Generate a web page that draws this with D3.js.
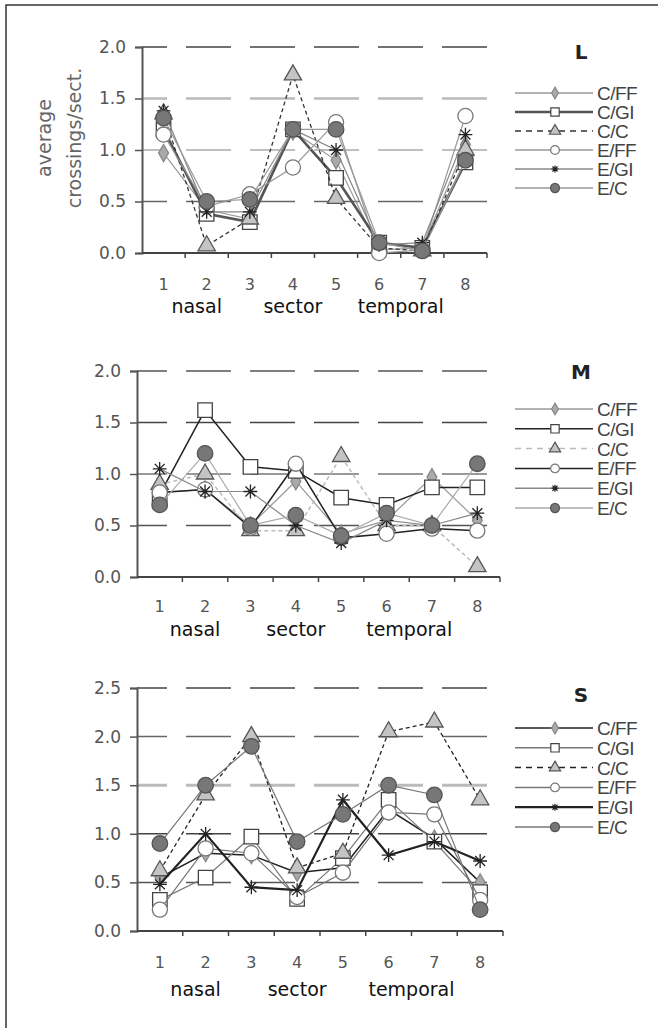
<!DOCTYPE html>
<html>
<head>
<meta charset="utf-8">
<script src="https://cdn.jsdelivr.net/npm/d3@7"></script>
<style>
  body { margin: 0; background: #fff; }
  svg { display: block; }
</style>
</head>
<body>
<div id="chart"></div>
<script>
// categories and labels
const sectors = ["1", "2", "3", "4", "5", "6", "7", "8"];
const seriesNames = ["C/FF", "C/GI", "C/C", "E/FF", "E/GI", "E/C"];
const regionLabels = ["nasal", "sector", "temporal"];
const ticksLM = [0, 0.5, 1, 1.5, 2];
const ticksS = [0, 0.5, 1, 1.5, 2, 2.5];

// L panel
const lCFF = [0.97, 0.42, 0.33, 1.18, 0.90, 0.03, 0.05, 1.05];
const lCGI = [1.20, 0.38, 0.30, 1.20, 0.73, 0.10, 0.05, 0.88];
const lCC  = [1.35, 0.07, 0.33, 1.73, 0.53, 0.05, 0.02, 1.00];
const lEFF = [1.15, 0.45, 0.57, 0.83, 1.27, 0.00, 0.03, 1.33];
const lEGI = [1.38, 0.40, 0.40, 1.20, 1.00, 0.08, 0.10, 1.15];
const lEC  = [1.31, 0.50, 0.52, 1.20, 1.20, 0.10, 0.02, 0.90];

// M panel
const mCFF = [0.82, 0.85, 0.50, 0.93, 0.42, 0.55, 0.97, 0.55];
const mCGI = [0.80, 1.62, 1.07, 1.03, 0.77, 0.70, 0.87, 0.87];
const mCC  = [0.90, 1.00, 0.45, 0.45, 1.17, 0.50, 0.50, 0.10];
const mEFF = [0.82, 0.85, 0.48, 1.10, 0.38, 0.42, 0.47, 0.45];
const mEGI = [1.05, 0.83, 0.83, 0.50, 0.33, 0.55, 0.50, 0.62];
const mEC  = [0.70, 1.20, 0.50, 0.60, 0.40, 0.62, 0.50, 1.10];

// S panel
const sCFF = [0.55, 0.80, 0.78, 0.60, 0.65, 1.25, 0.95, 0.50];
const sCGI = [0.32, 0.55, 0.97, 0.33, 0.75, 1.35, 0.92, 0.40];
const sCC  = [0.62, 1.40, 2.00, 0.65, 0.80, 2.05, 2.15, 1.35];
const sEFF = [0.22, 0.85, 0.80, 0.35, 0.60, 1.22, 1.20, 0.32];
const sEGI = [0.48, 1.00, 0.45, 0.42, 1.35, 0.78, 0.92, 0.72];
const sEC  = [0.90, 1.50, 1.90, 0.92, 1.20, 1.50, 1.40, 0.22];

const width = 658;
const height = 1028;

const svg = d3.select("#chart")
  .append("svg")
  .attr("width", width)
  .attr("height", height);

// outer frame (cut off on the right and bottom in the original)
svg.append("rect")
  .attr("x", 6).attr("y", 5)
  .attr("width", 1000).attr("height", 2000)
  .attr("fill", "none")
  .attr("stroke", "#333")
  .attr("stroke-width", 1.5);

// 8-spoke star used for E/GI
const star8 = {
  draw(ctx, size) {
    const r = Math.sqrt(size) / 2;
    const d = r * 0.72;
    ctx.moveTo(-r, 0); ctx.lineTo(r, 0);
    ctx.moveTo(0, -r); ctx.lineTo(0, r);
    ctx.moveTo(-d, -d); ctx.lineTo(d, d);
    ctx.moveTo(-d, d); ctx.lineTo(d, -d);
  }
};

// marker look per series (same in all panels)
const markers = [
  { type: d3.symbolDiamond, size: 85, legendSize: 40, fill: "#aaa", stroke: "#888" },
  { type: d3.symbolSquare, size: 210, legendSize: 70, fill: "#fff", stroke: "#444" },
  { type: d3.symbolTriangle, size: 130, legendSize: 55, fill: "#c4c4c4", stroke: "#555" },
  { type: d3.symbolCircle, size: 180, legendSize: 60, fill: "#fff", stroke: "#777" },
  { type: star8, size: 190, legendSize: 50, fill: "none", stroke: "#222" },
  { type: d3.symbolCircle, size: 190, legendSize: 65, fill: "#777", stroke: "#555" }
];

const panels = [
  {
    name: "L",
    values: [lCFF, lCGI, lCC, lEFF, lEGI, lEC],
    ticks: ticksLM, yMax: 2,
    left: 142, right: 487, top: 47, bottom: 253,
    numY: 290, regionY: 313,
    titleY: 59, legendY: 93, legendStep: 19,
    grid: { 0.5: ["#666", 1.5], 1: ["#aaa", 1.5], 1.5: ["#bbb", 2.5], 2: ["#444", 1.5] },
    lines: [
      ["#999", 1.2, null], ["#555", 2.6, null], ["#333", 1.3, "4,3"],
      ["#999", 1.2, null], ["#888", 1.2, null], ["#999", 1.2, null]
    ],
    yTitle: true
  },
  {
    name: "M",
    values: [mCFF, mCGI, mCC, mEFF, mEGI, mEC],
    ticks: ticksLM, yMax: 2,
    left: 137, right: 500, top: 371, bottom: 577,
    numY: 612, regionY: 636,
    titleY: 379, legendY: 409, legendStep: 19.8,
    grid: { 0.5: ["#555", 1.5], 1: ["#999", 2], 1.5: ["#444", 1.5], 2: ["#555", 1.5] },
    lines: [
      ["#999", 1.2, null], ["#222", 1.5, null], ["#bbb", 1.5, "4,3"],
      ["#222", 1.5, null], ["#888", 1.2, null], ["#aaa", 1.2, null]
    ],
    yTitle: false
  },
  {
    name: "S",
    values: [sCFF, sCGI, sCC, sEFF, sEGI, sEC],
    ticks: ticksS, yMax: 2.5,
    left: 137, right: 503, top: 688, bottom: 931,
    numY: 968, regionY: 996,
    titleY: 702, legendY: 728, legendStep: 19.8,
    grid: { 0.5: ["#555", 1.5], 1: ["#444", 1.5], 1.5: ["#bbb", 3], 2: ["#666", 1.5], 2.5: ["#444", 1.5] },
    lines: [
      ["#222", 1.5, null], ["#777", 1.2, null], ["#222", 1.3, "4,3"],
      ["#777", 1.2, null], ["#222", 2.2, null], ["#777", 1.2, null]
    ],
    yTitle: false
  }
];

const gridEnd = 488;

panels.forEach((p) => {
  const g = svg.append("g");

  const x = d3.scaleBand()
    .domain(sectors)
    .range([p.left, p.right]);

  const y = d3.scaleLinear()
    .domain([0, p.yMax])
    .range([p.bottom, p.top]);

  const cx = (d) => x(d) + x.bandwidth() / 2;

  // dashed gridlines
  g.selectAll(".grid")
    .data(p.ticks.filter((t) => t > 0))
    .enter()
    .append("line")
    .attr("x1", p.left)
    .attr("x2", gridEnd)
    .attr("y1", (d) => y(d))
    .attr("y2", (d) => y(d))
    .attr("stroke", (d) => p.grid[d][0])
    .attr("stroke-width", (d) => p.grid[d][1])
    .attr("stroke-dasharray", "45,19")
    .attr("stroke-dashoffset", 45 - (167 - p.left));

  // y axis
  const yAxis = g.append("g")
    .attr("transform", `translate(${p.left},0)`)
    .call(d3.axisLeft(y).tickValues(p.ticks).tickFormat(d3.format(".1f")).tickSize(7).tickPadding(9));
  yAxis.select(".domain").attr("stroke", "#555").attr("stroke-width", 2);
  yAxis.selectAll(".tick line").attr("stroke", "#555").attr("stroke-width", 1.5);
  yAxis.selectAll(".tick text")
    .attr("fill", "#555")
    .style("font-family", "DejaVu Sans, sans-serif")
    .style("font-size", "17px");

  // x axis: line with ticks at band boundaries
  g.append("line")
    .attr("x1", p.left).attr("x2", p.right)
    .attr("y1", p.bottom).attr("y2", p.bottom)
    .attr("stroke", "#444")
    .attr("stroke-width", 2);

  const bounds = sectors.map((s) => x(s)).concat([p.right]);
  g.selectAll(".xtick")
    .data(bounds.slice(1))
    .enter()
    .append("line")
    .attr("x1", (d) => d).attr("x2", (d) => d)
    .attr("y1", p.bottom).attr("y2", p.bottom + 5)
    .attr("stroke", "#444")
    .attr("stroke-width", 1.5);

  g.selectAll(".xlab")
    .data(sectors)
    .enter()
    .append("text")
    .attr("x", (d) => cx(d))
    .attr("y", p.numY)
    .attr("text-anchor", "middle")
    .attr("fill", "#555")
    .style("font-family", "DejaVu Sans, sans-serif")
    .style("font-size", "16px")
    .text((d) => d);

  // nasal / sector / temporal
  const regionX = [cx("2") - 10, cx("4"), (cx("6") + cx("7")) / 2];
  g.selectAll(".region")
    .data(regionLabels)
    .enter()
    .append("text")
    .attr("x", (d, i) => regionX[i])
    .attr("y", p.regionY)
    .attr("text-anchor", "middle")
    .attr("fill", "#111")
    .style("font-family", "DejaVu Sans, sans-serif")
    .style("font-size", "19px")
    .text((d) => d);

  // series: line then markers, drawn in legend order
  const line = d3.line()
    .x((d, i) => cx(sectors[i]))
    .y((d) => y(d));

  p.values.forEach((vals, si) => {
    const ls = p.lines[si];
    g.append("path")
      .attr("d", line(vals))
      .attr("fill", "none")
      .attr("stroke", ls[0])
      .attr("stroke-width", ls[1])
      .attr("stroke-dasharray", ls[2]);

    const m = markers[si];
    g.selectAll(null)
      .data(vals)
      .enter()
      .append("path")
      .attr("transform", (d, i) => `translate(${cx(sectors[i])},${y(d)})`)
      .attr("d", d3.symbol().type(m.type).size(m.size))
      .attr("fill", m.fill)
      .attr("stroke", m.stroke)
      .attr("stroke-width", 1.3);
  });

  // panel title and legend
  g.append("text")
    .attr("x", 581)
    .attr("y", p.titleY)
    .attr("text-anchor", "middle")
    .attr("fill", "#222")
    .style("font-family", "DejaVu Sans, sans-serif")
    .style("font-weight", "bold")
    .style("font-size", "20px")
    .text(p.name);

  const legend = g.selectAll(".legend")
    .data(seriesNames)
    .enter()
    .append("g")
    .attr("transform", (d, i) => `translate(0,${p.legendY + i * p.legendStep})`);

  legend.append("line")
    .attr("x1", 515).attr("x2", 593)
    .attr("y1", 0).attr("y2", 0)
    .attr("stroke", (d, i) => p.lines[i][0])
    .attr("stroke-width", (d, i) => Math.max(p.lines[i][1], 1.5))
    .attr("stroke-dasharray", (d, i) => (p.lines[i][2] ? "6,5" : null));

  legend.append("path")
    .attr("transform", "translate(555,0)")
    .attr("d", (d, i) => d3.symbol().type(markers[i].type).size(markers[i].legendSize)())
    .attr("fill", (d, i) => markers[i].fill)
    .attr("stroke", (d, i) => markers[i].stroke)
    .attr("stroke-width", 1.2);

  legend.append("text")
    .attr("x", 597)
    .attr("y", 7)
    .attr("fill", "#444")
    .style("font-family", "Liberation Sans, Arial, sans-serif")
    .style("font-size", "19px")
    .style("letter-spacing", "-0.5px")
    .text((d) => d);

  // y axis title on the first panel only
  if (p.yTitle) {
    const yt = g.append("text")
      .attr("transform", `translate(0,${(p.top + p.bottom) / 2 - 12}) rotate(-90)`)
      .attr("text-anchor", "middle")
      .attr("fill", "#666")
      .style("font-family", "DejaVu Sans, sans-serif")
      .style("font-size", "19px");
    yt.append("tspan").attr("x", 0).attr("y", 51).text("average");
    yt.append("tspan").attr("x", 0).attr("y", 81).text("crossings/sect.");
  }
});
</script>
</body>
</html>
